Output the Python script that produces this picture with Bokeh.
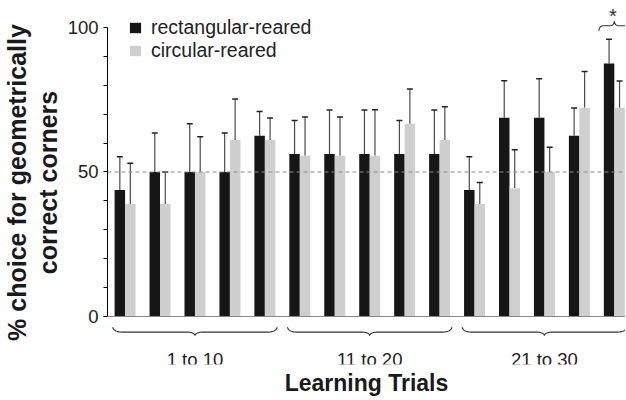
import numpy as np
from bokeh.plotting import figure
from bokeh.models import (Range1d, FixedTicker, Span, Whisker, ColumnDataSource,
                          Legend, LegendItem, TeeHead, Label)
from bokeh.core.properties import value
from bokeh.embed import file_html
from bokeh.resources import INLINE

# ---------------- data ----------------
series_names = ["rectangular-reared", "circular-reared"]
rect_values = [43.75, 50, 50, 50, 62.5, 56.25, 56.25, 56.25, 56.25, 56.25, 43.75, 68.75, 68.75, 62.5, 87.5]
rect_errors = [11.5, 13.5, 16.7, 13.5, 8.4, 11.6, 15.2, 15.2, 11.6, 15.2, 11.5, 12.8, 13.5, 9.6, 8.4]
circ_values = [38.9, 38.9, 50, 61.1, 61.1, 55.6, 55.6, 55.6, 66.7, 61.1, 38.9, 44.4, 50, 72.2, 72.2]
circ_errors = [14.1, 11.1, 12.2, 14.2, 7.6, 13.4, 13.4, 15.9, 12.0, 11.5, 7.5, 13.3, 8.6, 12.6, 9.3]
group_labels = ["1 to 10", "11 to 20", "21 to 30"]
x_title = "Learning Trials"
y_title = "% choice for geometrically\ncorrect corners"
y_ticks = [0, 10, 20, 30, 40, 50, 60, 70, 80, 90, 100]
y_tick_labels = {0: "0", 50: "50", 100: "100"}
chance_level = 50
significant_pair = 14

FONT = "Liberation Sans"
BLACK = "#161616"
GRAY = "#cfcfcf"

n = len(rect_values)
idx = np.arange(n)
bw = 0.3

p = figure(frame_width=518, frame_height=364, output_backend="svg", toolbar_location=None,
           x_range=Range1d(-0.503, 14.32), y_range=Range1d(-16.61, 109.34),
           min_border_left=100, min_border_right=0, min_border_top=0, min_border_bottom=0)
p.xgrid.visible = False
p.ygrid.visible = False
p.outline_line_color = None
p.background_fill_color = "white"

# x axis: only carries the title
xa = p.xaxis[0]
xa.ticker = FixedTicker(ticks=[])
xa.axis_line_color = None
xa.major_tick_line_color = None
xa.minor_tick_line_color = None
xa.major_tick_out = 0
xa.major_tick_in = 0
xa.minor_tick_out = 0
xa.minor_tick_in = 0
xa.major_label_text_font_size = "1px"
xa.major_label_text_color = None
xa.major_label_standoff = 0
xa.axis_label = x_title
xa.axis_label_text_font = FONT
xa.axis_label_text_font_style = "bold"
xa.axis_label_text_font_size = "23px"
xa.axis_label_text_line_height = 1.0
xa.axis_label_text_color = "#1a1a1a"
xa.axis_label_standoff = 5

# y axis
ya = p.yaxis[0]
ya.bounds = (0, 100)
ya.ticker = FixedTicker(ticks=y_ticks)
ya.major_label_overrides = {t: y_tick_labels.get(t, "") for t in y_ticks}
ya.minor_tick_line_color = None
ya.major_tick_in = 0
ya.major_tick_out = 4
ya.axis_line_color = "black"
ya.major_tick_line_color = "black"
ya.major_label_text_font = FONT
ya.major_label_text_font_size = "18.5px"
ya.major_label_text_color = "#222222"
ya.major_label_standoff = 5
ya.axis_label = y_title
ya.axis_label_text_font = FONT
ya.axis_label_text_font_style = "bold"
ya.axis_label_text_font_size = "25px"
ya.axis_label_text_line_height = 1.08
ya.axis_label_text_color = "#1a1a1a"
ya.axis_label_standoff = 3

# baseline
p.add_layout(Span(location=0, dimension="width", line_color="#888888", line_width=1))

# bars
src_r = ColumnDataSource(dict(x=idx - bw / 2, top=rect_values,
                              upper=np.array(rect_values) + np.array(rect_errors)))
src_c = ColumnDataSource(dict(x=idx + bw / 2, top=circ_values,
                              upper=np.array(circ_values) + np.array(circ_errors)))
r1 = p.vbar(x="x", top="top", bottom=0, width=bw, source=src_r, fill_color=BLACK, line_color=None)
r2 = p.vbar(x="x", top="top", bottom=0, width=bw, source=src_c, fill_color=GRAY, line_color=None)

for src in (src_r, src_c):
    w = Whisker(base="x", lower="top", upper="upper", source=src,
                line_color="#4a4a4a", line_width=1.2,
                upper_head=TeeHead(size=6, line_color="#222222", line_width=1.5),
                lower_head=None)
    p.add_layout(w)

# chance line
p.add_layout(Span(location=chance_level, dimension="width", line_color="#8a8a8a",
                  line_width=1, line_dash="4 3", level="overlay"))

# legend
leg = Legend(items=[LegendItem(label=series_names[0], renderers=[r1]),
                    LegendItem(label=series_names[1], renderers=[r2])],
             location=(21, 302.5), orientation="vertical",
             label_text_font=FONT, label_text_font_size="19.5px", label_text_color="#222222",
             glyph_width=14, glyph_height=13, label_standoff=9, label_height=22,
             spacing=0, padding=0, margin=0, border_line_color=None,
             background_fill_alpha=0)
p.add_layout(leg)


def brace(xc, half, y_end, y_mid, y_tip, r_end, r_tip):
    t = np.linspace(0, np.pi / 2, 12)
    x0 = xc - half
    xs = list(x0 + r_end * (1 - np.cos(t)))
    ys = list(y_mid + (y_end - y_mid) * (1 - np.sin(t)))
    xs += list(xc - r_tip + r_tip * np.sin(t))
    ys += list(y_mid + (y_tip - y_mid) * (1 - np.cos(t)))
    xs = np.array(xs)
    ys = np.array(ys)
    xr = 2 * xc - xs[::-1]
    yr = ys[::-1]
    return np.concatenate([xs, xr]), np.concatenate([ys, yr])


# group braces and labels below axis
group_size = n // len(group_labels)
centers = [idx[g * group_size:(g + 1) * group_size].mean() for g in range(len(group_labels))]
for c in centers:
    bx, by = brace(c, 2.35, -3.7, -5.4, -6.6, 0.25, 0.22)
    p.line(bx, by, line_color="#333333", line_width=1.1)
p.text(x=centers, y=[-15.0] * len(centers), text=group_labels,
       text_font=value(FONT), text_font_size="18.5px", text_color="#222222",
       text_align="center", text_baseline="alphabetic")

# significance brace
bx, by = brace(significant_pair, 0.44, 98.9, 100.6, 102.2, 0.12, 0.12)
p.line(bx, by, line_color="#333333", line_width=1.1)
p.add_layout(Label(x=significant_pair - 0.04, y=104.1, text="*", text_font=FONT,
                   text_font_size="20px", text_color="#333333",
                   text_align="center", text_baseline="alphabetic"))

open("out.html", "w").write(file_html(p, INLINE))
